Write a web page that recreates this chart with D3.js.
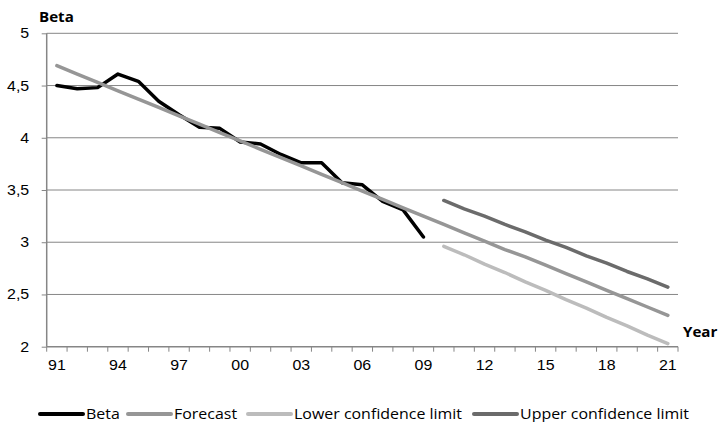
<!DOCTYPE html>
<html>
<head>
<meta charset="utf-8">
<script src="https://cdn.jsdelivr.net/npm/d3@7"></script>
<style>
  body { margin: 0; background: #fff; }
  svg { font-family: 'Open Sans', sans-serif; }
</style>
</head>
<body>
<div class="canvas"></div>
<script>
const years = d3.range(1991, 2022);
const yearLabels = ['91', '94', '97', '00', '03', '06', '09', '12', '15', '18', '21'];
const yTicks = [2, 2.5, 3, 3.5, 4, 4.5, 5];

const betaYears = d3.range(1991, 2010);
const betaValues = [4.50, 4.47, 4.48, 4.61, 4.54, 4.35, 4.22, 4.10, 4.09, 3.96,
  3.94, 3.84, 3.76, 3.76, 3.57, 3.55, 3.39, 3.31, 3.05];

const forecastValues = [4.69, 4.61, 4.53, 4.45, 4.37, 4.29, 4.21, 4.13, 4.05, 3.97,
  3.89, 3.81, 3.73, 3.65, 3.57, 3.49, 3.41, 3.33, 3.25, 3.17,
  3.09, 3.01, 2.93, 2.86, 2.78, 2.70, 2.62, 2.54, 2.46, 2.38, 2.30];

const limitYears = d3.range(2010, 2022);
const lowerValues = [2.96, 2.88, 2.79, 2.71, 2.62, 2.54, 2.45, 2.37, 2.28, 2.20, 2.11, 2.03];
const upperValues = [3.40, 3.32, 3.25, 3.17, 3.10, 3.02, 2.95, 2.87, 2.80, 2.72, 2.65, 2.57];

const series = [
  { name: 'Beta', years: betaYears, values: betaValues, color: '#000000' },
  { name: 'Forecast', years: years, values: forecastValues, color: '#969696' },
  { name: 'Lower confidence limit', years: limitYears, values: lowerValues, color: '#bcbcbc' },
  { name: 'Upper confidence limit', years: limitYears, values: upperValues, color: '#6b6b6b' }
];

const width = 718;
const height = 422;
const margin = { top: 33.3, right: 40, bottom: 75.3, left: 46.7 };
const graphWidth = 678 - margin.left;
const graphHeight = height - margin.top - margin.bottom;
const stretch = 1.14; // the original lettering is a bit wider than Open Sans

const svg = d3.select('.canvas')
  .append('svg')
  .attr('width', width)
  .attr('height', height);

const graph = svg.append('g')
  .attr('transform', `translate(${margin.left}, ${margin.top})`);

const x = d3.scaleBand().domain(years).range([0, graphWidth]);
const y = d3.scaleLinear().domain([2, 5]).range([graphHeight, 0]);

// gridlines
graph.append('g')
  .selectAll('line')
  .data(yTicks.filter(d => d > 2))
  .enter().append('line')
  .attr('x1', 0)
  .attr('x2', graphWidth)
  .attr('y1', d => y(d))
  .attr('y2', d => y(d))
  .attr('stroke', '#868686')
  .attr('stroke-width', 1);

const yAxis = d3.axisLeft(y)
  .tickValues(yTicks)
  .tickSize(5)
  .tickFormat(d => String(d).replace('.', ','));

const yAxisGroup = graph.append('g').call(yAxis);
yAxisGroup.selectAll('.tick text')
  .attr('x', -17.5 / stretch)
  .attr('transform', `scale(${stretch},1)`);

const xAxis = d3.axisBottom(x)
  .tickValues(years.filter(d => yearLabels.includes(String(d).slice(2))))
  .tickSize(0)
  .tickPadding(13)
  .tickFormat(d => String(d).slice(2));

const xAxisGroup = graph.append('g')
  .attr('transform', `translate(0, ${graphHeight})`)
  .call(xAxis);
xAxisGroup.selectAll('.tick text')
  .attr('transform', `scale(${stretch},1)`);

// category boundary ticks
xAxisGroup.append('g')
  .selectAll('line')
  .data(years.concat([2022]))
  .enter().append('line')
  .attr('x1', d => d === 2022 ? graphWidth : x(d))
  .attr('x2', d => d === 2022 ? graphWidth : x(d))
  .attr('y1', 0)
  .attr('y2', 5)
  .attr('stroke', '#868686')
  .attr('stroke-width', 1);

[yAxisGroup, xAxisGroup].forEach(g => {
  g.select('.domain').attr('stroke', '#868686').attr('stroke-width', 1.5);
  g.selectAll('.tick line').attr('stroke', '#868686');
  g.selectAll('text').attr('font-size', 14).attr('fill', '#000');
});
yAxisGroup.select('.domain').attr('d', `M0,0V${graphHeight}`);
xAxisGroup.select('.domain').attr('d', `M0,0H${graphWidth}`);

const line = d3.line()
  .x(d => x(d[0]) + x.bandwidth() / 2)
  .y(d => y(d[1]));

series.forEach(s => {
  graph.append('path')
    .datum(s.years.map((yr, i) => [yr, s.values[i]]))
    .attr('fill', 'none')
    .attr('stroke', s.color)
    .attr('stroke-width', 3.5)
    .attr('stroke-linecap', 'round')
    .attr('stroke-linejoin', 'round')
    .attr('d', line);
});

svg.append('text')
  .attr('transform', 'translate(39, 21.5) scale(1.08,1)')
  .attr('font-size', 14)
  .attr('font-weight', 'bold')
  .text('Beta');

svg.append('text')
  .attr('transform', 'translate(683, 337) scale(1.08,1)')
  .attr('font-size', 14)
  .attr('font-weight', 'bold')
  .text('Year');

// legend
const legendX = [40, 128, 248, 474];
const legend = svg.append('g').attr('transform', 'translate(0, 414)');
const items = legend.selectAll('g')
  .data(series)
  .enter().append('g')
  .attr('transform', (d, i) => `translate(${legendX[i]}, 0)`);

items.append('line')
  .attr('x1', 0)
  .attr('x2', 43)
  .attr('stroke', d => d.color)
  .attr('stroke-width', 4)
  .attr('stroke-linecap', 'round');

items.append('text')
  .attr('transform', `translate(46, 5) scale(${stretch},1)`)
  .attr('font-size', 14)
  .text(d => d.name);
</script>
</body>
</html>
